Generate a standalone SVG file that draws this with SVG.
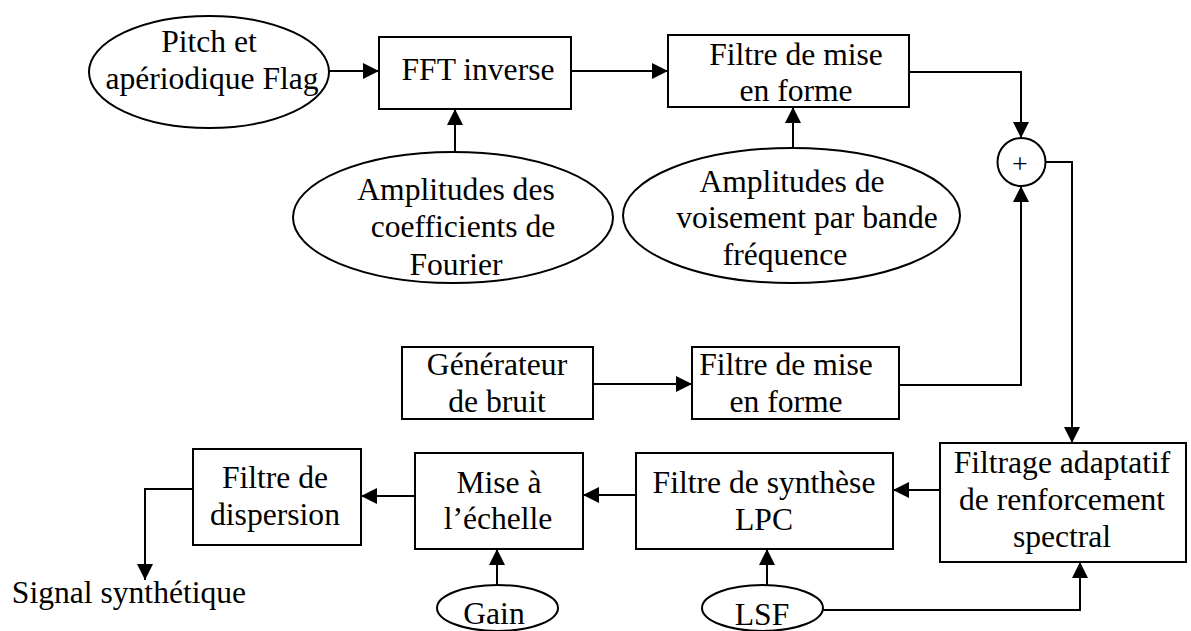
<svg xmlns="http://www.w3.org/2000/svg" width="1191" height="631" viewBox="0 0 1191 631" font-family="'Liberation Serif', 'Times New Roman', Times, serif">
<style>
.n{fill:#fff;stroke:#000;stroke-width:2}
text{font-family:'Liberation Serif','Times New Roman',Times,serif;font-size:31.6px;fill:#000;text-anchor:middle}
.c{fill:none;stroke:#000;stroke-width:2;marker-end:url(#ah)}
</style>
<defs>
<marker id="ah" markerUnits="userSpaceOnUse" markerWidth="16" markerHeight="16" refX="16" refY="8" orient="auto">
<path d="M0,0 L16,8 L0,16 z" fill="#000"/>
</marker>
</defs>
<rect width="1191" height="631" fill="#fff"/>
<g id="connectors">
<path class="c" d="M329,71 H379"/>
<path class="c" d="M571,71 H668"/>
<path class="c" d="M455,152 V109"/>
<path class="c" d="M793,148 V107"/>
<path class="c" d="M909,72 H1021 V138"/>
<path class="c" d="M593,384 H692"/>
<path class="c" d="M899,385 H1021 V186"/>
<path class="c" d="M1046,162 H1072 V443"/>
<path class="c" d="M940,490 H893"/>
<path class="c" d="M636,495 H583"/>
<path class="c" d="M415,496 H361"/>
<path class="c" d="M193,489 H145 V580"/>
<path class="c" d="M497,585 V549"/>
<path class="c" d="M767,585 V549"/>
<path class="c" d="M823,610 H1080 V562"/>
</g>
<g id="pitch">
<ellipse class="n" cx="209" cy="72" rx="120" ry="56"/>
<text x="209" y="52">Pitch et</text>
<text x="212" y="89">apériodique Flag</text>
</g>
<g id="fft">
<rect class="n" x="379" y="37" width="192" height="72"/>
<text x="478" y="80">FFT inverse</text>
</g>
<g id="filtre1">
<rect class="n" x="668" y="35" width="241" height="72"/>
<text x="796" y="65">Filtre de mise</text>
<text x="796" y="101">en forme</text>
</g>
<g id="amp1">
<ellipse class="n" cx="453" cy="217.5" rx="160" ry="65.5"/>
<text x="456" y="200">Amplitudes des</text>
<text x="463" y="237">coefficients de</text>
<text x="456" y="275">Fourier</text>
</g>
<g id="amp2">
<ellipse class="n" cx="791.5" cy="215.5" rx="168.5" ry="67.5"/>
<text x="792" y="192">Amplitudes de</text>
<text x="807" y="228">voisement par bande</text>
<text x="785" y="265">fréquence</text>
</g>
<g id="sum">
<circle class="n" cx="1021.5" cy="162" r="24"/>
<text x="1020" y="173" style="font-size:28px">+</text>
</g>
<g id="generateur">
<rect class="n" x="402" y="347" width="191" height="72"/>
<text x="497" y="375">Générateur</text>
<text x="497" y="412">de bruit</text>
</g>
<g id="filtre2">
<rect class="n" x="692" y="347" width="207" height="72"/>
<text x="786" y="375">Filtre de mise</text>
<text x="786" y="412">en forme</text>
</g>
<g id="filtrage">
<rect class="n" x="940" y="443" width="246" height="119"/>
<text x="1062" y="473">Filtrage adaptatif</text>
<text x="1062" y="510">de renforcement</text>
<text x="1062" y="547">spectral</text>
</g>
<g id="lpc">
<rect class="n" x="636" y="453" width="257" height="96"/>
<text x="764" y="493">Filtre de synthèse</text>
<text x="764" y="530">LPC</text>
</g>
<g id="mise">
<rect class="n" x="415" y="453" width="168" height="96"/>
<text x="499" y="493">Mise à</text>
<text x="498" y="529">l’échelle</text>
</g>
<g id="dispersion">
<rect class="n" x="193" y="449" width="168" height="96"/>
<text x="275" y="488">Filtre de</text>
<text x="275" y="525">dispersion</text>
</g>
<g id="signal">
<text x="129" y="603">Signal synthétique</text>
</g>
<g id="gain">
<ellipse class="n" cx="497.5" cy="608" rx="60.5" ry="23"/>
<text x="494" y="624">Gain</text>
</g>
<g id="lsf">
<ellipse class="n" cx="762.5" cy="608" rx="60.5" ry="23"/>
<text x="762" y="625">LSF</text>
</g>
</svg>
